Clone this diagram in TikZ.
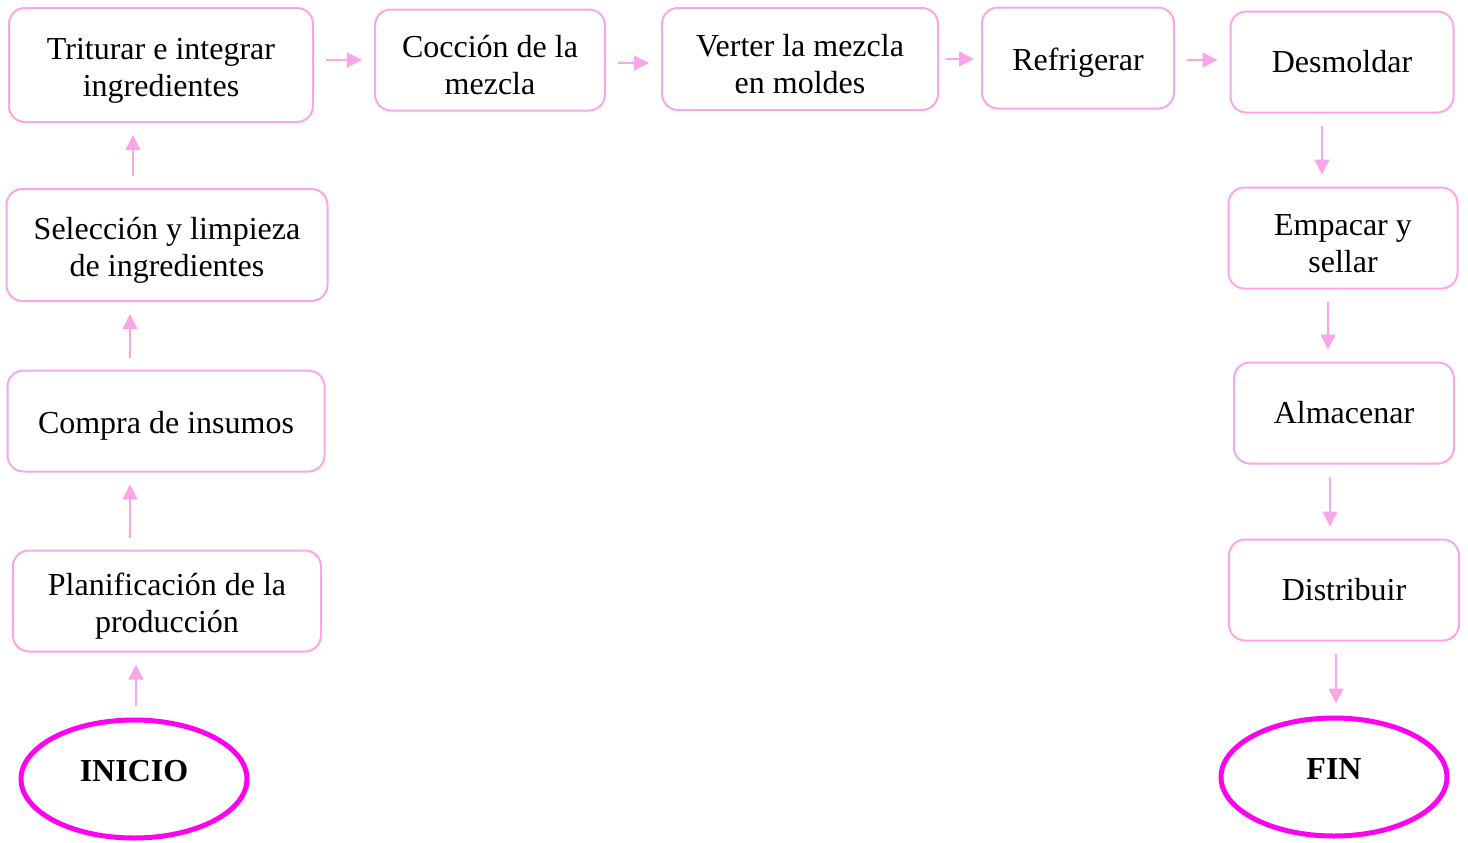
\documentclass[tikz,border=0pt]{standalone}
\usepackage{fontspec}
\setmainfont{Liberation Serif}
\usepackage{xcolor}
\definecolor{colorBox}{RGB}{248,166,230}
\definecolor{colorEnd}{RGB}{255,0,240}
\colorlet{colorFlow}{colorBox}
\usetikzlibrary{arrows.meta, shapes.geometric}
\newcommand{\alto}{\rule{0pt}{16pt}}
\tikzset{
  paso/.style={draw=colorBox, line width=1pt, rounded corners=8pt, align=center,
    inner sep=0pt, font=\fontsize{16}{18.5}\selectfont},
  extremo/.style={ellipse, draw=colorEnd, line width=2.5pt, inner sep=0pt,
    minimum width=113pt, minimum height=59pt, font=\fontsize{16}{18.5}\selectfont\bfseries,
    execute at begin node={\rule[-8pt]{0pt}{8pt}}},
  flow/.style={colorFlow, line width=0.65pt, -{Triangle[length=7.5pt, width=7.5pt]},
    shorten <=6pt, shorten >=6pt}
}
\begin{document}
\begin{tikzpicture}[x=0.5pt, y=-0.5pt]
\useasboundingbox (0,0) rectangle (1468,842);
% left column, bottom to top
\node[extremo] (inicio) at (134,779) {INICIO};
\node[paso, minimum width=154pt, minimum height=50.5pt] (planif) at (167,601) {\alto Planificación de la\\producción};
\node[paso, minimum width=158.5pt, minimum height=50.5pt] (compra) at (166,421) {\alto Compra de insumos};
\node[paso, minimum width=160.5pt, minimum height=56pt] (seleccion) at (167,245) {\alto Selección y limpieza\\de ingredientes};
\node[paso, minimum width=152pt, minimum height=57pt] (triturar) at (161,65) {\alto Triturar e integrar\\ingredientes};
% top row
\node[paso, minimum width=115pt, minimum height=50.5pt] (coccion) at (490,60) {\alto Cocción de la\\mezcla};
\node[paso, minimum width=138pt, minimum height=51pt] (verter) at (800,59) {\alto Verter la mezcla\\en moldes};
\node[paso, minimum width=96pt, minimum height=50.5pt] (refrig) at (1078,58) {\alto Refrigerar};
% right column, top to bottom
\node[paso, minimum width=111.5pt, minimum height=50.5pt] (desmold) at (1342,62) {Desmoldar};
\node[paso, minimum width=114.5pt, minimum height=50.5pt] (empacar) at (1343,238) {\alto Empacar y\\sellar};
\node[paso, minimum width=110pt, minimum height=50.5pt] (almacen) at (1344,413) {Almacenar};
\node[paso, minimum width=115pt, minimum height=50.5pt] (distrib) at (1344,590) {Distribuir};
\node[extremo] (fin) at (1334,777) {FIN};

\draw [flow] ([xshift=1pt]inicio.north) -- ([xshift=1pt]inicio.north |- planif.south);
\draw [flow] ([xshift=-18.5pt]planif.north) -- ([xshift=-18.5pt]planif.north |- compra.south);
\draw [flow] ([xshift=-18pt]compra.north) -- ([xshift=-18pt]compra.north |- seleccion.south);
\draw [flow] ([xshift=-17pt]seleccion.north) -- ([xshift=-17pt]seleccion.north |- triturar.south);
\draw [flow] (coccion.west -| triturar.east) -- (coccion.west);
\draw [flow] ([yshift=-1.5pt]coccion.east) -- ([yshift=-1.5pt]coccion.east -| verter.west);
\draw [flow, shorten <=3.5pt, shorten >=3.5pt] (verter.east) -- (verter.east -| refrig.west);
\draw [flow] ([yshift=-1pt]refrig.east) -- ([yshift=-1pt]refrig.east -| desmold.west);
\draw [flow] ([xshift=-10pt]desmold.south) -- ([xshift=-10pt]desmold.south |- empacar.north);
\draw [flow] ([xshift=-7.5pt]empacar.south) -- ([xshift=-7.5pt]empacar.south |- almacen.north);
\draw [flow] ([xshift=-7pt]almacen.south) -- ([xshift=-7pt]almacen.south |- distrib.north);
\draw [flow] ([xshift=1pt]fin.north |- distrib.south) -- ([xshift=1pt]fin.north);
\end{tikzpicture}
\end{document}
